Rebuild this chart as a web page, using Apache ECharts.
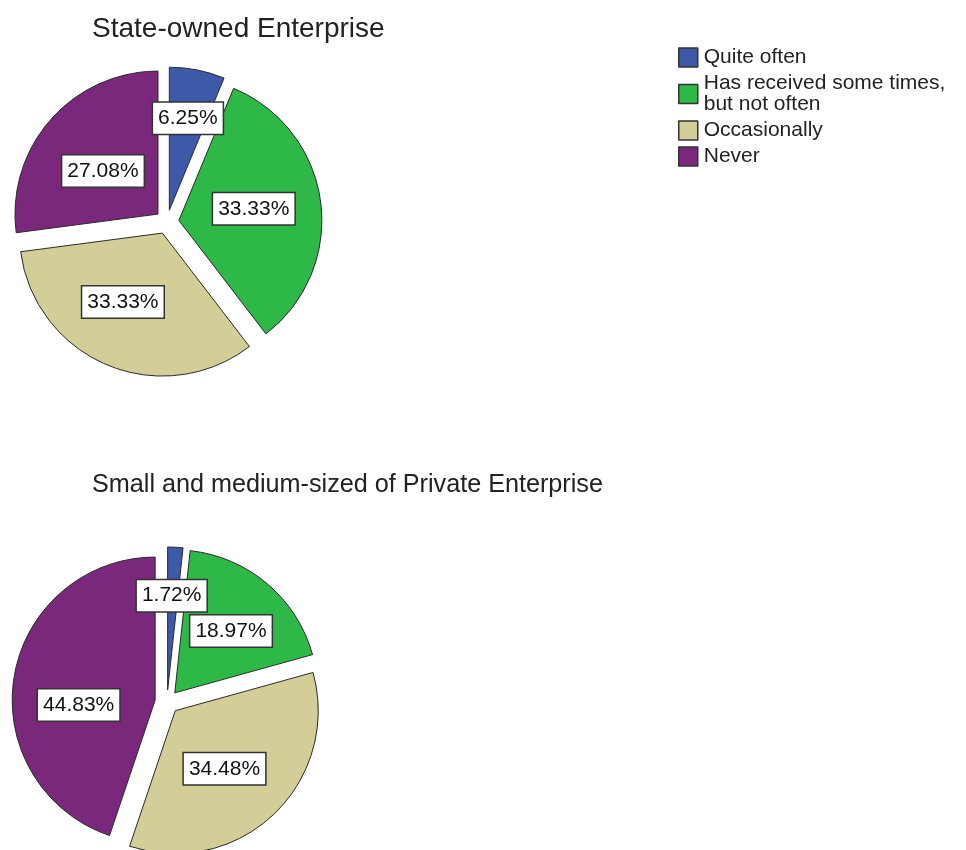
<!DOCTYPE html>
<html>
<head>
<meta charset="utf-8">
<title>Frequency of receiving by enterprise type</title>
<script src="https://cdn.jsdelivr.net/npm/echarts@6/dist/echarts.min.js"></script>
<style>
  html, body { margin: 0; padding: 0; background: #ffffff; }
  #chart { width: 966px; height: 850px; }
</style>
</head>
<body>
<div id="chart"></div>
<script>
// Response categories (shared by both pies)
const categories = [
  'Quite often',
  'Has received some times,\nbut not often',
  'Occasionally',
  'Never'
];

// Percent of respondents per category
const stateOwned = [6.25, 33.33, 33.33, 27.08];
const smePrivate = [1.72, 18.97, 34.48, 44.83];

const titles = ['State-owned Enterprise', 'Small and medium-sized of Private Enterprise'];

const palette = ['#3F59A9', '#2EB848', '#D3CE97', '#79287C'];

// Small nudges so the value boxes sit where they read best inside each slice
const nudgeTop = [[4, -19], [1, -2], [-11, 0], [1, 6]];
const nudgeBottom = [[0, -20], [8, -5], [-2, 4], [-3, 17]];

const FONT = '"Liberation Sans", Arial, sans-serif';

function pieData(values) {
  return values.map((v, i) => ({
    name: categories[i],
    value: v,
    selected: true,
    itemStyle: { color: palette[i] }
  }));
}

function pieSeries(values, nudges, center) {
  return {
    type: 'pie',
    center: center,
    radius: 143,
    startAngle: 90,
    clockwise: true,
    selectedMode: 'multiple',
    selectedOffset: 12,
    avoidLabelOverlap: false,
    silent: true,
    animation: false,
    itemStyle: { borderColor: '#2a2a2a', borderWidth: 1 },
    select: { itemStyle: { borderColor: '#2a2a2a', borderWidth: 1 } },
    emphasis: { disabled: true },
    labelLine: { show: false },
    label: {
      show: true,
      position: 'inside',
      formatter: p => p.value.toFixed(2) + '%',
      fontFamily: FONT,
      fontSize: 21,
      color: '#111',
      backgroundColor: '#ffffff',
      borderColor: '#333',
      borderWidth: 1.5,
      padding: [5, 5, 5, 5]
    },
    labelLayout: p => ({ dx: nudges[p.dataIndex][0], dy: nudges[p.dataIndex][1] }),
    data: pieData(values)
  };
}

const chart = echarts.init(document.getElementById('chart'), null, { renderer: 'canvas' });

chart.setOption({
  backgroundColor: '#ffffff',
  animation: false,
  color: palette,
  title: [
    {
      text: titles[0], left: 87, top: 10,
      textStyle: { fontFamily: FONT, fontSize: 28, fontWeight: 'normal', color: '#222' }
    },
    {
      text: titles[1], left: 87, top: 468,
      textStyle: { fontFamily: FONT, fontSize: 25.2, fontWeight: 'normal', color: '#222' }
    }
  ],
  legend: {
    orient: 'vertical',
    left: 678,
    top: 47,
    padding: 0,
    icon: 'rect',
    itemWidth: 19,
    itemHeight: 19,
    itemGap: 5,
    selectedMode: false,
    data: categories,
    itemStyle: { borderColor: '#333', borderWidth: 1.5 },
    textStyle: { fontFamily: FONT, fontSize: 21, lineHeight: 21, color: '#222', padding: [0, 0, 0, 1] }
  },
  series: [
    pieSeries(stateOwned, nudgeTop, [167, 222]),
    pieSeries(smePrivate, nudgeBottom, [167, 702])
  ]
});
</script>
</body>
</html>
